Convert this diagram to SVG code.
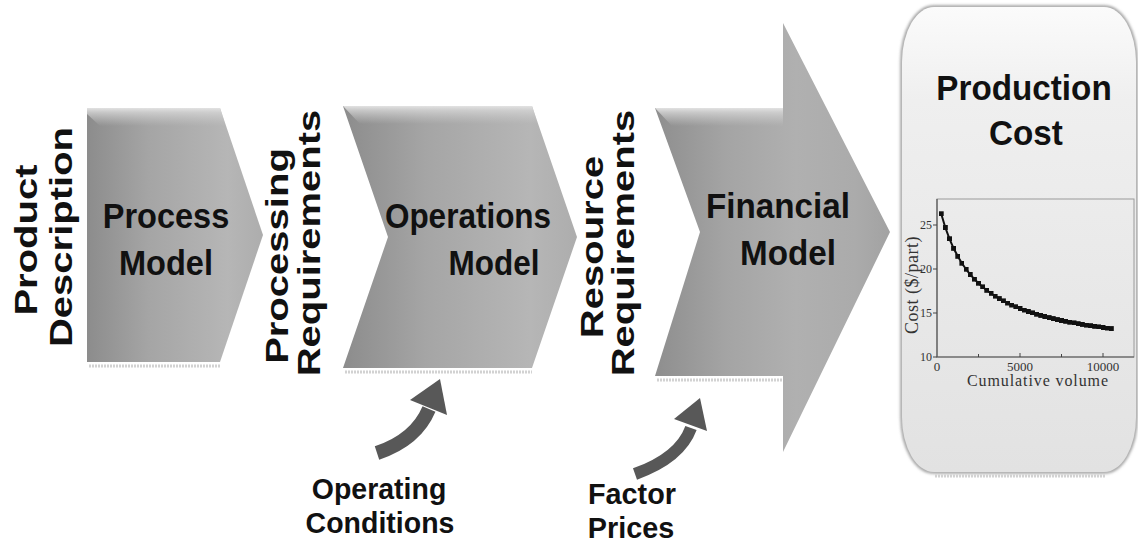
<svg xmlns="http://www.w3.org/2000/svg" width="1138" height="543" viewBox="0 0 1138 543">
  <defs>
    <!-- body shading of the chevrons: darker on the left, lighter toward the tip -->
    <linearGradient id="chevFill" x1="0" y1="0" x2="1" y2="0">
      <stop offset="0" stop-color="#8c8c8c"/>
      <stop offset="0.35" stop-color="#a5a5a5"/>
      <stop offset="0.8" stop-color="#b6b6b6"/>
      <stop offset="1" stop-color="#adadad"/>
    </linearGradient>
    <!-- the wide final arrow keeps its head mid grey -->
    <linearGradient id="arrowFill" x1="0" y1="0" x2="1" y2="0">
      <stop offset="0" stop-color="#8e8e8e"/>
      <stop offset="0.3" stop-color="#a4a4a4"/>
      <stop offset="0.6" stop-color="#b0b0b0"/>
      <stop offset="0.85" stop-color="#ababab"/>
      <stop offset="1" stop-color="#a2a2a2"/>
    </linearGradient>
    <!-- soft highlight along the top edge of each chevron -->
    <linearGradient id="bevel" x1="0" y1="0" x2="0" y2="1">
      <stop offset="0" stop-color="#e2e2e2" stop-opacity="1"/>
      <stop offset="0.25" stop-color="#d4d4d4" stop-opacity="0.8"/>
      <stop offset="1" stop-color="#c8c8c8" stop-opacity="0"/>
    </linearGradient>
    <linearGradient id="cardFill" x1="0" y1="0" x2="0" y2="1">
      <stop offset="0" stop-color="#fbfbfb"/>
      <stop offset="0.2" stop-color="#efefef"/>
      <stop offset="1" stop-color="#e2e2e2"/>
    </linearGradient>
    <filter id="soft" x="-5%" y="-5%" width="110%" height="110%">
      <feGaussianBlur stdDeviation="1.5"/>
    </filter>
    <marker id="dot" markerUnits="userSpaceOnUse" markerWidth="5" markerHeight="5" refX="2.5" refY="2.5">
      <rect width="5" height="5" fill="#111"/>
    </marker>
    <style>
      .chev { fill: url(#chevFill); }
      .bevel { fill: url(#bevel); }
      .refl { stroke: #d2d2d2; stroke-width: 3; stroke-dasharray: 2 1; }
      .lbl { font-family: "Liberation Sans", Arial, sans-serif; font-weight: bold; fill: #111; text-anchor: middle; }
      .big { font-size: 35px; }
      .side { font-size: 40px; }
      .note { font-size: 30px; }
      .serif { font-family: "Liberation Serif", "Times New Roman", serif; fill: #333; }
      .tick { stroke: #444; stroke-width: 1; }
      .feed { fill: none; stroke: #585858; }
      .feedhead { fill: #585858; }
    </style>
  </defs>

  <rect width="1138" height="543" fill="#ffffff"/>

  <!-- input label on the far left -->
  <g id="product-description">
    <text class="lbl side" transform="translate(37,240) rotate(-90) scale(1,0.8)">Product</text>
    <text class="lbl side" transform="translate(72,237) rotate(-90) scale(1,0.8)">Description</text>
  </g>

  <g id="process-model">
    <path class="chev" d="M87,108 L220,108 L263,235 L220,362 L87,362 Z"/>
    <polygon class="bevel" points="87,108 220,108 226,126 100,126 87,114"/>
    <line class="refl" x1="89" y1="366" x2="220" y2="366"/>
    <text class="lbl big" transform="translate(166,228) scale(0.93,1)">Process</text>
    <text class="lbl big" transform="translate(166,275) scale(0.93,1)">Model</text>
  </g>

  <g id="processing-requirements">
    <text class="lbl side" transform="translate(288,256) rotate(-90) scale(1,0.8)">Processing</text>
    <text class="lbl side" transform="translate(320,243) rotate(-90) scale(1,0.8)">Requirements</text>
  </g>

  <g id="operations-model">
    <path class="chev" d="M343,106 L532,106 L577,237 L532,368 L343,368 L388,237 Z"/>
    <polygon class="bevel" points="343,106 532,106 538,124 360,124"/>
    <line class="refl" x1="345" y1="372" x2="532" y2="372"/>
    <text class="lbl big" transform="translate(468,228) scale(0.9,1)">Operations</text>
    <text class="lbl big" transform="translate(494,275) scale(0.9,1)">Model</text>
  </g>

  <g id="resource-requirements">
    <text class="lbl side" transform="translate(603,247) rotate(-90) scale(1,0.8)">Resource</text>
    <text class="lbl side" transform="translate(634,243) rotate(-90) scale(1,0.8)">Requirements</text>
  </g>

  <g id="financial-model">
    <path fill="url(#arrowFill)" d="M655,108 L783,108 L783,23 L890,232 L783,452 L783,376 L655,376 L700,232 Z"/>
    <polygon class="bevel" points="655,108 783,108 783,126 672,126"/>
    <line class="refl" x1="657" y1="380" x2="783" y2="380"/>
    <text class="lbl big" transform="translate(778,218) scale(0.95,1)">Financial</text>
    <text class="lbl big" transform="translate(788,265) scale(0.95,1)">Model</text>
  </g>

  <g id="production-cost">
    <rect x="902" y="7" width="234" height="465" rx="32" ry="55" fill="none" stroke="#909090" stroke-width="3" filter="url(#soft)"/>
    <rect x="902" y="7" width="234" height="465" rx="32" ry="55" fill="url(#cardFill)"/>
    <line class="refl" x1="935" y1="476" x2="1105" y2="476"/>
    <text class="lbl big" transform="translate(1024,100) scale(0.95,1)">Production</text>
    <text class="lbl big" transform="translate(1026,145) scale(0.95,1)">Cost</text>

    <!-- cost vs cumulative volume chart -->
    <g id="cost-chart">
      <rect x="937" y="199" width="197" height="158" fill="none" stroke="#9a9a9a" stroke-width="1"/>
      <path d="M937,199 L937,357 L1134,357" fill="none" stroke="#555" stroke-width="1.2"/>
      <line class="tick" x1="933" y1="225" x2="937" y2="225"/>
      <line class="tick" x1="933" y1="269" x2="937" y2="269"/>
      <line class="tick" x1="933" y1="313" x2="937" y2="313"/>
      <line class="tick" x1="933" y1="357" x2="937" y2="357"/>
      <line class="tick" x1="978.5" y1="357" x2="978.5" y2="354"/>
      <line class="tick" x1="1020" y1="357" x2="1020" y2="353"/>
      <line class="tick" x1="1061.5" y1="357" x2="1061.5" y2="354"/>
      <line class="tick" x1="1103" y1="357" x2="1103" y2="353"/>
      <g class="serif" font-size="12" text-anchor="end">
        <text x="932" y="229">25</text>
        <text x="932" y="273">20</text>
        <text x="932" y="317">15</text>
        <text x="932" y="361">10</text>
      </g>
      <g class="serif" font-size="13" text-anchor="middle">
        <text x="937" y="371">0</text>
        <text x="1020" y="371">5000</text>
        <text x="1103" y="371">10000</text>
      </g>
      <text class="serif" font-size="16" text-anchor="middle" letter-spacing="0.9" x="1038" y="386">Cumulative  volume</text>
      <text class="serif" font-size="18" text-anchor="middle" letter-spacing="0.5" transform="translate(918,285) rotate(-90)">Cost ($/part)</text>
      <polyline fill="none" stroke="#111" stroke-width="2" marker-start="url(#dot)" marker-mid="url(#dot)" marker-end="url(#dot)"
        points="941.2,213.8 945.3,227.5 949.5,238.8 953.6,248.3 957.8,256.3 961.9,263.2 966.1,269.2 970.2,274.5 974.4,279.1 978.5,283.2 982.7,286.9 986.8,290.3 991.0,293.3 995.1,296.1 999.3,298.6 1003.4,300.9 1007.6,303.0 1011.7,305.0 1015.9,306.8 1020.0,308.5 1024.2,310.0 1028.3,311.5 1032.5,312.9 1036.6,314.2 1040.8,315.4 1044.9,316.5 1049.1,317.6 1053.2,318.6 1057.4,319.6 1061.5,320.5 1065.7,321.3 1069.8,322.2 1074.0,322.9 1078.1,323.7 1082.3,324.4 1086.4,325.1 1090.6,325.7 1094.7,326.3 1098.9,326.9 1103.0,327.5 1107.2,328.0 1111.3,328.6"/>
    </g>
  </g>

  <g id="operating-conditions">
    <text class="lbl note" transform="translate(379,499) scale(0.95,1)">Operating</text>
    <text class="lbl note" transform="translate(380,533) scale(0.95,1)">Conditions</text>
  </g>

  <g id="factor-prices">
    <text class="lbl note" transform="translate(632,504) scale(0.96,1)">Factor</text>
    <text class="lbl note" transform="translate(631,538) scale(0.96,1)">Prices</text>
  </g>

  <!-- curved feed-in arrows -->
  <g id="connectors">
    <path class="feed" stroke-width="14" d="M377,453 Q416,440 429,409"/>
    <polygon class="feedhead" points="440,379 410,400 447,415"/>
    <path class="feed" stroke-width="12" d="M635,474 Q680,458 691,428"/>
    <polygon class="feedhead" points="700,398 674,419 707,431"/>
  </g>
</svg>
